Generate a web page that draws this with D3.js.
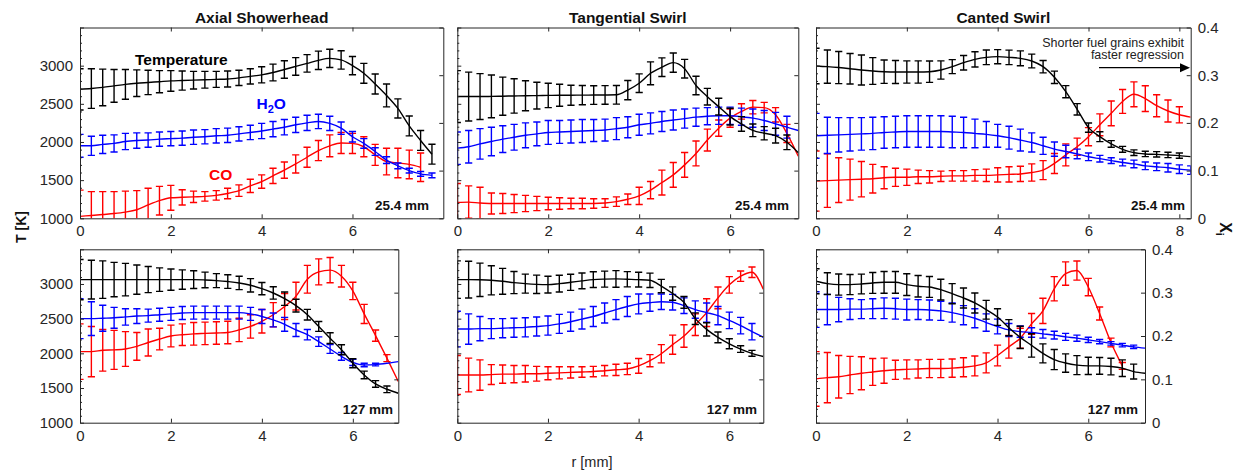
<!DOCTYPE html>
<html>
<head>
<meta charset="utf-8">
<script src="https://cdn.jsdelivr.net/npm/d3@7"></script>
<style>
  html, body { margin: 0; padding: 0; background: #fff; }
  svg { display: block; }
  text { font-family: "Liberation Sans", Arial, Helvetica, sans-serif; }
</style>
</head>
<body>
<script>
// Radial profiles of temperature and species mole fraction (H2O, CO)
// for three injector types at two axial stations.

// ---- radial sampling positions [mm] ----
const radiusAxial25 = [0,0.25,0.5,0.75,1,1.25,1.5,1.75,2,2.25,2.5,2.75,3,3.25,3.5,3.75,4,4.25,4.5,4.75,5,5.25,5.5,5.75,6,6.25,6.5,6.75,7,7.25,7.5,7.75];
const radiusTangential25 = [0,0.25,0.5,0.75,1,1.25,1.5,1.75,2,2.25,2.5,2.75,3,3.25,3.5,3.75,4,4.25,4.5,4.75,5,5.25,5.5,5.75,6,6.25,6.5,6.75,7,7.25,7.5];
const radiusCanted25 = [0,0.25,0.5,0.75,1,1.25,1.5,1.75,2,2.25,2.5,2.75,3,3.25,3.5,3.75,4,4.25,4.5,4.75,5,5.25,5.5,5.75,6,6.25,6.5,6.75,7,7.25,7.5,7.75,8,8.25];
const radiusAxial127 = [0,0.25,0.5,0.75,1,1.25,1.5,1.75,2,2.25,2.5,2.75,3,3.25,3.5,3.75,4,4.25,4.5,4.75,5,5.25,5.5,5.75,6,6.25,6.5,6.75,7];
const radiusTangential127 = [0,0.25,0.5,0.75,1,1.25,1.5,1.75,2,2.25,2.5,2.75,3,3.25,3.5,3.75,4,4.25,4.5,4.75,5,5.25,5.5,5.75,6,6.25,6.5,6.75];
const radiusCanted127 = [0,0.25,0.5,0.75,1,1.25,1.5,1.75,2,2.25,2.5,2.75,3,3.25,3.5,3.75,4,4.25,4.5,4.75,5,5.25,5.5,5.75,6,6.25,6.5,6.75,7,7.25];

// ---- Axial showerhead, 25.4 mm ----
const tempAxial25 = [2690,2700,2715,2735,2755,2770,2780,2790,2800,2805,2810,2815,2820,2825,2840,2860,2880,2910,2950,2990,3030,3070,3095,3075,3000,2900,2760,2610,2440,2210,2020,1840];
const tempErrAxial25 = [270,260,240,215,195,175,160,145,135,125,115,110,105,105,100,100,105,110,115,115,115,120,120,120,120,130,131,150,125,130,130,130];
const h2oAxial25 = [0.152,0.152,0.155,0.157,0.161,0.163,0.164,0.166,0.167,0.168,0.170,0.171,0.173,0.174,0.177,0.180,0.183,0.187,0.191,0.196,0.200,0.203,0.199,0.189,0.171,0.157,0.140,0.122,0.110,0.100,0.093,0.090];
const h2oErrAxial25 = [0.024,0.020,0.019,0.018,0.017,0.016,0.015,0.015,0.015,0.015,0.015,0.015,0.015,0.015,0.015,0.015,0.016,0.016,0.016,0.016,0.016,0.015,0.015,0.013,0.011,0.010,0.008,0.007,0.006,0.005,0.005,0.005];
const coAxial25 = [0.004,0.006,0.008,0.010,0.013,0.018,0.028,0.037,0.043,0.044,0.045,0.046,0.048,0.052,0.058,0.068,0.077,0.089,0.101,0.114,0.128,0.142,0.152,0.158,0.157,0.150,0.133,0.119,0.116,0.113,0.107];
const coErrAxial25 = [0.055,0.050,0.048,0.046,0.044,0.040,0.035,0.030,0.026,0.016,0.012,0.010,0.010,0.011,0.012,0.014,0.014,0.016,0.017,0.019,0.021,0.021,0.023,0.022,0.021,0.021,0.022,0.028,0.031,0.030,0.030];

// ---- Tangential swirl, 25.4 mm ----
const tempTangential25 = [2595,2595,2595,2597,2600,2603,2606,2608,2610,2612,2613,2614,2615,2616,2618,2680,2770,2900,2980,3040,2960,2740,2594,2463,2332,2236,2153,2114,2083,1996,1860];
const tempErrTangential25 = [340,320,300,280,250,225,196,175,160,144,131,127,122,122,122,126,122,150,122,126,122,122,109,109,109,96,83,87,96,96];
const h2oTangential25 = [0.147,0.150,0.156,0.161,0.166,0.170,0.174,0.177,0.180,0.181,0.182,0.183,0.184,0.185,0.188,0.191,0.196,0.199,0.203,0.206,0.209,0.212,0.214,0.215,0.215,0.213,0.210,0.205,0.198,0.191,0.184];
const h2oErrTangential25 = [0.034,0.034,0.032,0.030,0.028,0.027,0.026,0.025,0.025,0.024,0.024,0.024,0.023,0.023,0.023,0.022,0.022,0.022,0.021,0.021,0.020,0.019,0.018,0.018,0.018,0.018,0.019,0.021,0.024,0.023];
const coTangential25 = [0.033,0.034,0.032,0.031,0.031,0.031,0.031,0.031,0.031,0.031,0.031,0.031,0.031,0.032,0.035,0.040,0.047,0.059,0.075,0.091,0.112,0.136,0.164,0.189,0.210,0.224,0.233,0.232,0.217,0.178,0.130];
const coErrTangential25 = [0.040,0.034,0.033,0.022,0.021,0.019,0.017,0.015,0.013,0.012,0.011,0.011,0.010,0.009,0.010,0.011,0.018,0.018,0.026,0.026,0.026,0.026,0.023,0.017,0.019,0.016,0.014,0.011,0.015,0.019];

// ---- Canted swirl, 25.4 mm ----
const tempCanted25 = [2996,2987,2975,2960,2943,2930,2921,2917,2917,2917,2921,2943,2987,3039,3083,3109,3118,3109,3096,3061,2987,2847,2659,2428,2188,2070,1974,1904,1860,1843,1838,1830,1821,1808];
const tempErrCanted25 = [233,218,210,200,196,175,153,150,146,146,140,120,92,95,100,96,92,95,98,90,81,81,79,74,61,65,44,39,37,35,35,35,35];
const h2oCanted25 = [0.173,0.174,0.175,0.176,0.177,0.178,0.180,0.181,0.182,0.182,0.182,0.182,0.181,0.180,0.178,0.176,0.173,0.169,0.164,0.159,0.152,0.145,0.140,0.135,0.129,0.125,0.121,0.117,0.114,0.110,0.108,0.106,0.103,0.101];
const h2oErrCanted25 = [0.047,0.038,0.036,0.035,0.034,0.034,0.033,0.033,0.033,0.033,0.033,0.033,0.033,0.032,0.030,0.027,0.024,0.024,0.023,0.020,0.018,0.015,0.013,0.010,0.008,0.007,0.006,0.007,0.008,0.008,0.008,0.009,0.009,0.009];
const coCanted25 = [0.078,0.079,0.080,0.081,0.082,0.083,0.085,0.086,0.086,0.087,0.087,0.088,0.089,0.089,0.090,0.090,0.091,0.092,0.093,0.096,0.101,0.115,0.133,0.150,0.171,0.196,0.220,0.245,0.260,0.251,0.236,0.225,0.217,0.212];
const coErrCanted25 = [0.063,0.056,0.047,0.043,0.037,0.030,0.023,0.019,0.017,0.014,0.013,0.011,0.011,0.011,0.012,0.013,0.015,0.016,0.016,0.018,0.020,0.021,0.023,0.018,0.019,0.023,0.026,0.025,0.026,0.027,0.023,0.023,0.017];

// ---- Axial showerhead, 127 mm ----
const tempAxial127 = [3063,3063,3063,3063,3063,3063,3063,3063,3063,3063,3063,3058,3049,3035,3015,2981,2933,2870,2788,2687,2557,2388,2219,2051,1858,1689,1559,1482,1424];
const tempErrAxial127 = [290,280,270,248,234,210,188,169,154,140,128,113,101,99,96,96,89,89,96,92,77,72,77,72,65,55,48,48];
const h2oAxial127 = [0.240,0.240,0.241,0.242,0.244,0.246,0.247,0.249,0.251,0.253,0.254,0.254,0.254,0.254,0.254,0.251,0.245,0.237,0.227,0.214,0.203,0.187,0.170,0.153,0.139,0.133,0.134,0.137,0.141];
const h2oErrAxial127 = [0.046,0.039,0.030,0.024,0.019,0.017,0.015,0.015,0.015,0.015,0.015,0.015,0.015,0.015,0.015,0.015,0.016,0.016,0.016,0.015,0.012,0.011,0.010,0.009,0.007,0.004,0.003];
const coAxial127 = [0.164,0.164,0.167,0.168,0.170,0.176,0.185,0.193,0.200,0.203,0.205,0.206,0.207,0.208,0.214,0.222,0.234,0.249,0.268,0.292,0.331,0.348,0.352,0.338,0.304,0.251,0.201,0.149,0.095];
const coErrAxial127 = [0.064,0.058,0.048,0.045,0.040,0.032,0.031,0.025,0.025,0.025,0.026,0.026,0.026,0.026,0.027,0.027,0.027,0.028,0.030,0.032,0.032,0.030,0.029,0.025,0.020,0.022,0.013,0.008];

// ---- Tangential swirl, 127 mm ----
const tempTangential127 = [3063,3063,3060,3053,3039,3020,3005,2995,2991,3005,3024,3045,3063,3070,3073,3068,3063,3053,2970,2862,2735,2500,2345,2230,2138,2062,2000,1954];
const tempErrTangential127 = [270,265,241,210,186,159,137,133,120,120,116,113,113,116,120,110,106,104,96,96,84,84,96,77,72,48,43];
const h2oTangential127 = [0.216,0.216,0.217,0.217,0.218,0.219,0.220,0.222,0.224,0.228,0.233,0.239,0.245,0.253,0.261,0.268,0.274,0.277,0.279,0.278,0.270,0.261,0.254,0.247,0.236,0.224,0.210,0.197];
const h2oErrTangential127 = [0.041,0.035,0.028,0.023,0.022,0.022,0.022,0.022,0.022,0.022,0.022,0.023,0.023,0.023,0.023,0.023,0.023,0.020,0.018,0.018,0.018,0.020,0.022,0.021,0.019,0.019,0.019];
const coTangential127 = [0.110,0.110,0.110,0.111,0.112,0.112,0.113,0.113,0.114,0.115,0.116,0.117,0.118,0.120,0.122,0.124,0.131,0.143,0.159,0.180,0.200,0.226,0.254,0.288,0.318,0.338,0.347,0.308];
const coErrTangential127 = [0.045,0.039,0.035,0.023,0.021,0.020,0.019,0.017,0.015,0.014,0.013,0.012,0.012,0.012,0.013,0.013,0.017,0.014,0.021,0.022,0.026,0.025,0.032,0.025,0.019,0.012,0.012];

// ---- Canted swirl, 127 mm ----
const tempCanted127 = [3039,3005,2991,2991,3000,3015,3024,3024,2991,2967,2957,2918,2860,2798,2726,2629,2523,2370,2230,2115,2000,1910,1860,1830,1819,1819,1810,1786,1737,1713];
const tempErrCanted127 = [180,157,152,145,142,150,157,157,157,155,150,150,145,145,145,135,120,116,160,169,137,145,133,137,125,120,120,120,108];
const h2oCanted127 = [0.261,0.261,0.261,0.262,0.262,0.263,0.264,0.263,0.261,0.261,0.260,0.258,0.254,0.248,0.241,0.231,0.222,0.214,0.210,0.208,0.205,0.202,0.198,0.195,0.191,0.187,0.183,0.179,0.175,0.172];
const h2oErrCanted127 = [0.041,0.035,0.028,0.024,0.022,0.023,0.024,0.024,0.024,0.023,0.023,0.022,0.022,0.022,0.022,0.020,0.017,0.015,0.013,0.011,0.010,0.009,0.008,0.007,0.006,0.005,0.004,0.004,0.004];
const coCanted127 = [0.101,0.104,0.106,0.110,0.114,0.117,0.120,0.122,0.123,0.124,0.125,0.125,0.126,0.128,0.131,0.138,0.155,0.175,0.195,0.228,0.258,0.309,0.344,0.351,0.313,0.252,0.185,0.131];
const coErrCanted127 = [0.063,0.058,0.049,0.043,0.038,0.031,0.029,0.022,0.022,0.021,0.021,0.021,0.021,0.022,0.023,0.023,0.024,0.026,0.023,0.024,0.029,0.028,0.027,0.022,0.020,0.015,0.010,0.008];

// ---- axis ticks ----
const tempTicks = [1000, 1500, 2000, 2500, 3000, 3500];
const tempTickLabels = [1000, 1500, 2000, 2500, 3000];
const tempMinorTicks = [1100,1200,1300,1400,1600,1700,1800,1900,2100,2200,2300,2400,2600,2700,2800,2900,3100,3200,3300,3400];
const moleTicks = [0, 0.1, 0.2, 0.3, 0.4];
const radiusTicksShort = [0, 2, 4, 6];
const radiusTicksLong = [0, 2, 4, 6, 8];

const injectorTitles = ["Axial Showerhead", "Tangential Swirl", "Canted Swirl"];
const stationLabels = ["25.4 mm", "127 mm"];

// ---- layout (pixel geometry of each axes box) ----
const rows = [{ top: 27.5, bottom: 218.3 }, { top: 249.3, bottom: 422.7 }];
const cols = [80, 457.3, 816];
const panels = [
  { row: 0, col: 0, right: 443.3, rMax: 8.0,  xticks: radiusTicksShort, r: radiusAxial25,
    T: tempAxial25, Te: tempErrAxial25, H: h2oAxial25, He: h2oErrAxial25, C: coAxial25, Ce: coErrAxial25, tagRight: 429 },
  { row: 0, col: 1, right: 798.3, rMax: 7.5,  xticks: radiusTicksShort, r: radiusTangential25,
    T: tempTangential25, Te: tempErrTangential25, H: h2oTangential25, He: h2oErrTangential25, C: coTangential25, Ce: coErrTangential25, tagRight: 789 },
  { row: 0, col: 2, right: 1190.7, rMax: 8.25, xticks: radiusTicksLong, r: radiusCanted25,
    T: tempCanted25, Te: tempErrCanted25, H: h2oCanted25, He: h2oErrCanted25, C: coCanted25, Ce: coErrCanted25, tagRight: 1185 },
  { row: 1, col: 0, right: 398.3, rMax: 7.0,  xticks: radiusTicksShort, r: radiusAxial127,
    T: tempAxial127, Te: tempErrAxial127, H: h2oAxial127, He: h2oErrAxial127, C: coAxial127, Ce: coErrAxial127, tagRight: 393 },
  { row: 1, col: 1, right: 763.3, rMax: 6.75, xticks: radiusTicksShort, r: radiusTangential127,
    T: tempTangential127, Te: tempErrTangential127, H: h2oTangential127, He: h2oErrTangential127, C: coTangential127, Ce: coErrTangential127, tagRight: 757 },
  { row: 1, col: 2, right: 1145, rMax: 7.25, xticks: radiusTicksShort, r: radiusCanted127,
    T: tempCanted127, Te: tempErrCanted127, H: h2oCanted127, He: h2oErrCanted127, C: coCanted127, Ce: coErrCanted127, tagRight: 1138 }
];

const axisColor = "#262626";
const W = 1237, H = 471;

const svg = d3.select("body").append("svg")
  .attr("width", W).attr("height", H)
  .attr("viewBox", `0 0 ${W} ${H}`);

const defs = svg.append("defs");

panels.forEach((p, k) => {
  const left = cols[p.col];
  const { top, bottom } = rows[p.row];

  const x = d3.scaleLinear().domain([0, p.rMax]).range([left, p.right]);
  const yT = d3.scaleLinear().domain([1000, 3500]).range([bottom, top]);
  const yX = d3.scaleLinear().domain([0, 0.4]).range([bottom, top]);

  const clipId = "clip" + k;
  defs.append("clipPath").attr("id", clipId)
    .append("rect").attr("x", left).attr("y", top)
    .attr("width", p.right - left).attr("height", bottom - top);

  const g = svg.append("g");
  const plot = g.append("g").attr("clip-path", `url(#${clipId})`);

  const series = [
    { v: p.C, e: p.Ce, y: yX, color: "#ff0000" },
    { v: p.H, e: p.He, y: yX, color: "#0000ff" },
    { v: p.T, e: p.Te, y: yT, color: "#000000" }
  ];

  series.forEach(s => {
    const pts = s.v.map((v, i) => ({ r: p.r[i], v: v, e: s.e[i] }));
    const line = d3.line().x(d => x(d.r)).y(d => s.y(d.v)).curve(d3.curveMonotoneX);
    plot.append("path").datum(pts)
      .attr("d", line)
      .attr("fill", "none")
      .attr("stroke", s.color)
      .attr("stroke-width", 1.4);

    const bars = plot.append("g")
      .attr("stroke", s.color)
      .attr("stroke-width", 1.4)
      .attr("fill", "none");
    const withErr = pts.filter(d => d.e !== undefined);
    const cap = 3.6;
    bars.selectAll("path").data(withErr).join("path")
      .attr("d", d => {
        const cx = x(d.r), y1 = s.y(d.v - d.e), y2 = s.y(d.v + d.e);
        return `M${cx},${y1}V${y2}M${cx - cap},${y1}H${cx + cap}M${cx - cap},${y2}H${cx + cap}`;
      });
  });

  // axes (ticks point inward, box closed on all sides)
  const styleAxis = sel => {
    sel.selectAll("path.domain").attr("stroke", axisColor).attr("stroke-width", 1);
    sel.selectAll(".tick line").attr("stroke", axisColor).attr("stroke-width", 1);
    sel.selectAll(".tick text").attr("fill", axisColor)
      .style("font-size", "15px")
      .style("font-family", '"Liberation Sans", Arial, Helvetica, sans-serif');
  };

  // bottom
  g.append("g").attr("transform", `translate(0,${bottom})`)
    .call(d3.axisBottom(x).tickValues(p.xticks).tickSizeInner(-4).tickSizeOuter(0).tickPadding(7.5).tickFormat(d3.format("d")))
    .call(styleAxis);
  // top
  g.append("g").attr("transform", `translate(0,${top})`)
    .call(d3.axisTop(x).tickValues(p.xticks).tickSizeInner(-4).tickSizeOuter(0).tickFormat(""))
    .call(styleAxis);
  // left: temperature
  const leftAxis = d3.axisLeft(yT).tickValues(tempTicks).tickSizeInner(-4).tickSizeOuter(0).tickPadding(7);
  if (p.col === 0) leftAxis.tickFormat(d => tempTickLabels.includes(d) ? d : "");
  else leftAxis.tickFormat("");
  g.append("g").attr("transform", `translate(${left},0)`).call(leftAxis).call(styleAxis);
  g.append("g").attr("transform", `translate(${left},0)`)
    .call(d3.axisLeft(yT).tickValues(tempMinorTicks).tickSizeInner(-2).tickSizeOuter(0).tickFormat(""))
    .call(styleAxis)
    .call(sel => sel.select("path.domain").remove());
  // right: mole fraction
  const rightAxis = d3.axisRight(yX).tickValues(moleTicks).tickSizeInner(-4).tickSizeOuter(0).tickPadding(7);
  if (p.col === 2) rightAxis.tickFormat(d => d === 0 ? "0" : d3.format(".1f")(d));
  else rightAxis.tickFormat("");
  g.append("g").attr("transform", `translate(${p.right},0)`).call(rightAxis).call(styleAxis);

  // station label
  g.append("text")
    .attr("x", p.tagRight).attr("y", bottom - 8.5)
    .attr("text-anchor", "end")
    .attr("font-weight", "bold").attr("font-size", 13.5)
    .attr("fill", "#111")
    .text(stationLabels[p.row]);

  // column title
  if (p.row === 0) {
    g.append("text")
      .attr("x", (left + p.right) / 2).attr("y", 22.5)
      .attr("text-anchor", "middle")
      .attr("font-weight", "bold").attr("font-size", 15.5)
      .attr("fill", "#111")
      .text(injectorTitles[p.col]);
  }
});

// series labels
svg.append("text").attr("x", 135).attr("y", 64.5)
  .attr("font-weight", "bold").attr("font-size", 15.5).attr("fill", "#000")
  .text("Temperature");
const h2oLabel = svg.append("text").attr("x", 256.5).attr("y", 108.5)
  .attr("font-weight", "bold").attr("font-size", 15.5).attr("fill", "#0000ff");
h2oLabel.append("tspan").text("H");
h2oLabel.append("tspan").attr("font-size", 11).attr("dy", 4.5).text("2");
h2oLabel.append("tspan").attr("dy", -4.5).text("O");
svg.append("text").attr("x", 209).attr("y", 179.5)
  .attr("font-weight", "bold").attr("font-size", 15.5).attr("fill", "#ff0000")
  .text("CO");

// annotation with arrow
svg.append("text").attr("x", 1184).attr("y", 46.5)
  .attr("text-anchor", "end").attr("font-size", 12.5).attr("fill", "#222")
  .text("Shorter fuel grains exhibit");
svg.append("text").attr("x", 1184).attr("y", 58.5)
  .attr("text-anchor", "end").attr("font-size", 12.5).attr("fill", "#222")
  .text("faster regression");
svg.append("line").attr("x1", 1099).attr("y1", 67.7).attr("x2", 1182).attr("y2", 67.7)
  .attr("stroke", "#000").attr("stroke-width", 1.2);
svg.append("path").attr("d", "M1190,67.7L1180,63.2L1180,72.2Z").attr("fill", "#000");

// axis titles
svg.append("text")
  .attr("transform", "translate(26,227) rotate(-90)")
  .attr("text-anchor", "middle")
  .attr("font-weight", "bold").attr("font-size", 14).attr("fill", "#111")
  .text("T [K]");
const xiLabel = svg.append("text")
  .attr("transform", "translate(1220,229) rotate(90)")
  .attr("text-anchor", "middle")
  .attr("font-weight", "bold").attr("font-size", 16).attr("fill", "#111");
xiLabel.append("tspan").text("X");
xiLabel.append("tspan").attr("font-size", 11).attr("dy", 4).text("i");
svg.append("text")
  .attr("x", 592).attr("y", 467)
  .attr("text-anchor", "middle")
  .attr("font-size", 14.5).attr("fill", axisColor)
  .text("r [mm]");
</script>
</body>
</html>
